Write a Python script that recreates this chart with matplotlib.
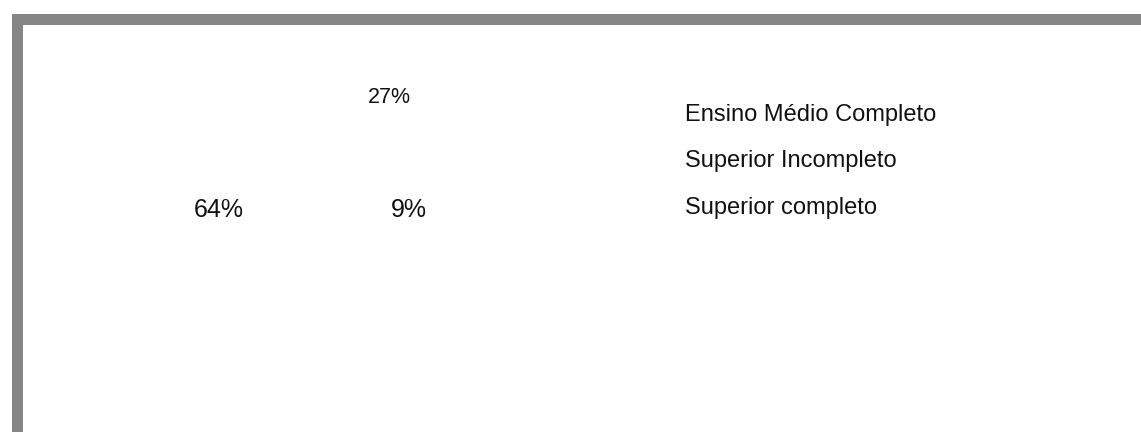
import matplotlib.pyplot as plt
from matplotlib.patches import Rectangle

plt.rcParams['font.family'] = ['Liberation Sans', 'DejaVu Sans']

categorias = ['Ensino Médio Completo', 'Superior Incompleto', 'Superior completo']
valores = [64, 27, 9]

W, H = 1141, 432
fig = plt.figure(figsize=(W / 100, H / 100), dpi=100)
fig.patch.set_facecolor('white')

# pie area (wedges are white on white, like the original)
ax = fig.add_axes([0.08, 0.05, 0.35, 0.8])
wedges, textos = ax.pie(valores, colors=['white'] * 3, startangle=90,
                        wedgeprops=dict(edgecolor='white'))
ax.set_aspect('equal')

# percentage labels, placed where the original has them (pixel coords)
pos = {64: (219, 217, 18), 27: (389, 103, 15.5), 9: (409, 217, 18)}
for v in valores:
    x, y, fs = pos[v]
    fig.text(x / W, 1 - y / H, '%d%%' % v, ha='center', va='baseline',
             fontsize=fs, color='#111111')

# legend with invisible handles
leg = ax.legend(wedges, categorias, loc='upper left',
                bbox_to_anchor=(685 / W, 1 - 104 / H), bbox_transform=fig.transFigure,
                frameon=False, fontsize=17, handlelength=0, handletextpad=0,
                labelspacing=1.03, borderpad=0, borderaxespad=0)
for t in leg.get_texts():
    t.set_color('#111111')

# gray border on top and left
fig.patches.append(Rectangle((16.5 / W, -0.1), 1.2, (1 - 18.5 / H) + 0.1,
                             transform=fig.transFigure, fill=False,
                             edgecolor='#858585', linewidth=7.9))

fig.savefig('out.png', dpi=100)
